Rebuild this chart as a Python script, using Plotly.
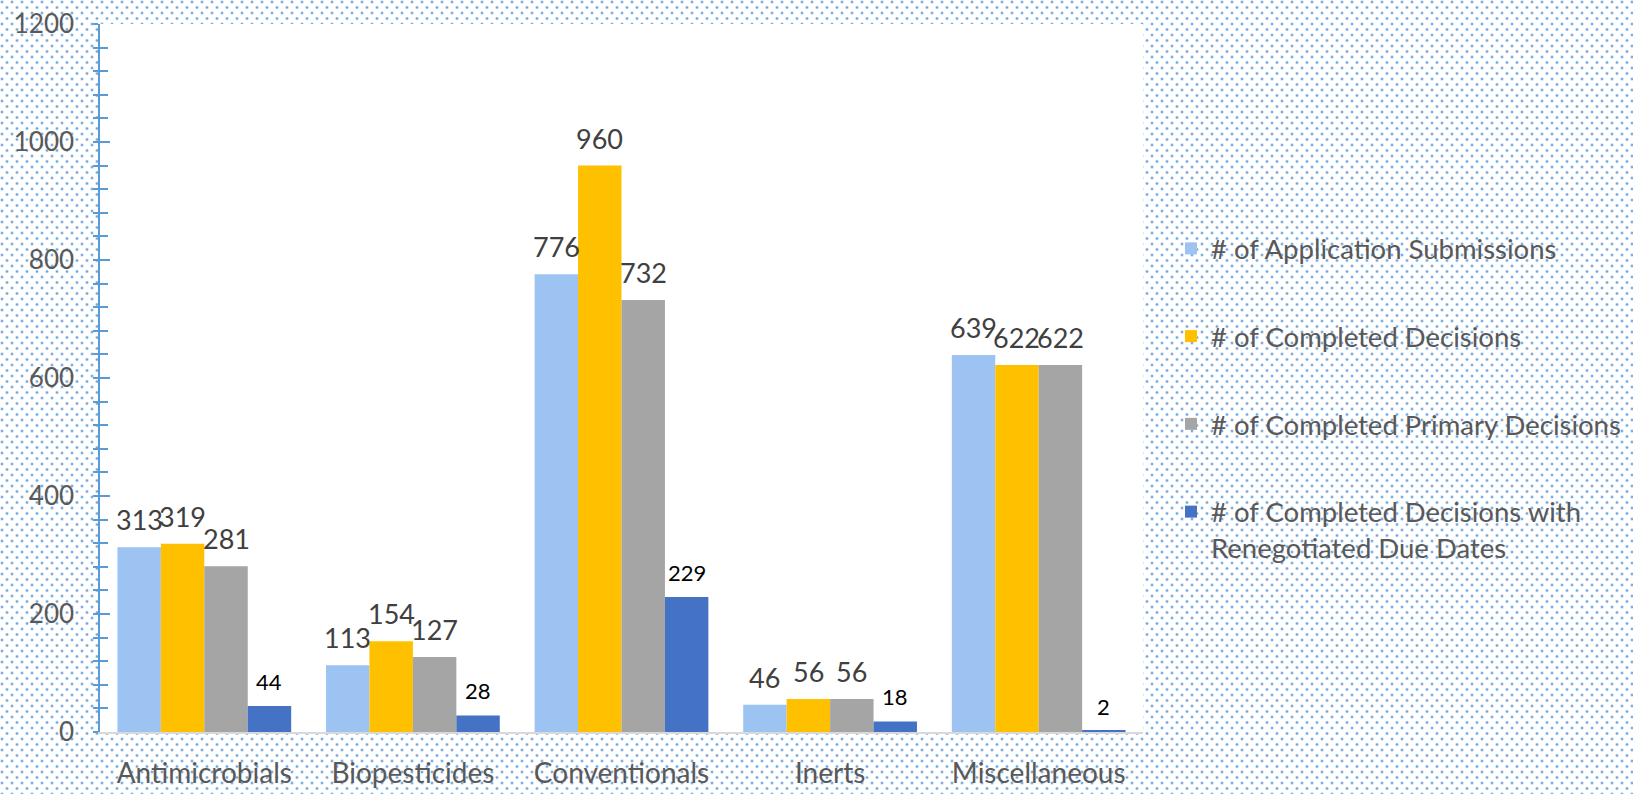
import base64
import plotly.graph_objects as go

categories = ["Antimicrobials", "Biopesticides", "Conventionals", "Inerts", "Miscellaneous"]
series_names = [
    "# of Application Submissions",
    "# of Completed Decisions",
    "# of Completed Primary Decisions",
    "# of Completed Decisions with<br>Renegotiated Due Dates",
]
application_submissions = [313, 113, 776, 46, 639]
completed_decisions = [319, 154, 960, 56, 622]
completed_primary_decisions = [281, 127, 732, 56, 622]
renegotiated_due_dates = [44, 28, 229, 18, 2]
y_tick_values = [0, 200, 400, 600, 800, 1000, 1200]

series_values = [application_submissions, completed_decisions,
                 completed_primary_decisions, renegotiated_due_dates]
colors = ["#9DC3F3", "#FFC000", "#A5A5A5", "#4472C4"]
label_colors = ["#404040", "#404040", "#404040", "#000000"]
label_sizes = [27, 27, 27, 22]

W, H = 1633, 794
ML, MR, MT, MB = 100, 490, 24, 62
PW, PH = W - ML - MR, H - MT - MB
FONT = "Lato"
BARGAP = 0.167

# dotted background pattern as SVG
svg = f'''<svg xmlns="http://www.w3.org/2000/svg" width="{W}" height="{H}" viewBox="0 0 {W} {H}">
<defs><pattern id="p" x="0" y="0" width="10" height="11" patternUnits="userSpaceOnUse">
<rect width="10" height="11" fill="#ffffff"/>
<circle cx="2" cy="2" r="1.7" fill="#B8D5F1"/>
<circle cx="2" cy="2" r="1.0" fill="#6AA3DA"/>
<circle cx="7" cy="7.5" r="1.7" fill="#B8D5F1"/>
<circle cx="7" cy="7.5" r="1.0" fill="#6AA3DA"/>
</pattern></defs>
<rect width="{W}" height="{H}" fill="url(#p)"/></svg>'''
svg_uri = "data:image/svg+xml;base64," + base64.b64encode(svg.encode()).decode()

fig = go.Figure()
xs = list(range(len(categories)))
n = len(series_values)
bw = (1 - BARGAP) / n
for i, (name, vals, col) in enumerate(zip(series_names, series_values, colors)):
    fig.add_trace(go.Bar(
        x=xs, y=vals, name=name, marker=dict(color=col, line=dict(width=0)),
        legendgroup=f"g{i}", hoverinfo="y",
    ))
    off = -(1 - BARGAP) / 2 + bw * (i + 0.5)
    for xi, v in zip(xs, vals):
        fig.add_annotation(
            x=xi + off, y=v, text=str(v), showarrow=False, yanchor="bottom",
            xanchor="center", yshift=9,
            font=dict(family=FONT, size=label_sizes[i], color=label_colors[i]),
        )

# second y axis only for the inner half of the crossing ticks
fig.add_trace(go.Scatter(x=[None], y=[None], yaxis="y2", showlegend=False, hoverinfo="skip"))

axis_blue = "#5B9BD5"
fig.update_layout(
    width=W, height=H,
    margin=dict(l=ML, r=MR, t=MT, b=MB, pad=0, autoexpand=False),
    paper_bgcolor="white", plot_bgcolor="rgba(0,0,0,0)",
    barmode="group", bargap=BARGAP, bargroupgap=0,
    font=dict(family=FONT, color="#595959"),
    xaxis=dict(
        range=[-0.5, len(categories) - 0.5], tickvals=xs, ticktext=categories,
        showgrid=False, zeroline=False, showline=True, linecolor="#D9D9D9", linewidth=1.5,
        ticks="", tickfont=dict(family=FONT, size=28, color="#595959"),
        ticklabelstandoff=16, automargin=False,
    ),
    yaxis=dict(
        range=[0, 1200], tickvals=y_tick_values, showgrid=False, zeroline=False,
        showline=True, linecolor=axis_blue, linewidth=1.5,
        ticks="outside", ticklen=5, tickwidth=1.5, tickcolor=axis_blue,
        minor=dict(dtick=40, ticks="outside", ticklen=5, tickwidth=1.5, tickcolor=axis_blue),
        tickfont=dict(family=FONT, size=26, color="#595959"),
        ticklabelstandoff=14, automargin=False,
    ),
    yaxis2=dict(
        range=[0, 1200], overlaying="y", side="left", showgrid=False, zeroline=False,
        showline=False, showticklabels=False, tickvals=y_tick_values,
        ticks="inside", ticklen=10, tickwidth=1.5, tickcolor=axis_blue,
        minor=dict(dtick=40, ticks="inside", ticklen=8, tickwidth=1.5, tickcolor=axis_blue),
        automargin=False,
    ),
    legend=dict(
        xref="container", yref="container",
        x=1171 / W, xanchor="left", y=1 - 224 / H, yanchor="top",
        bgcolor="rgba(0,0,0,0)", font=dict(family=FONT, size=27.5, color="#595959"),
        traceorder="grouped", tracegroupgap=49, valign="top",
    ),
    images=[dict(
        source=svg_uri, xref="paper", yref="paper",
        x=-ML / PW, y=1 + MT / PH, sizex=W / PW, sizey=H / PH,
        xanchor="left", yanchor="top", sizing="stretch", layer="below",
    )],
    shapes=[dict(
        type="rect", xref="paper", yref="paper", x0=0, x1=1, y0=0, y1=1,
        fillcolor="white", line=dict(width=0), layer="below",
    )],
    showlegend=True,
)

fig.write_html(
    "out.html",
    config={"displayModeBar": False},
    post_script="document.body.style.margin='0px';document.body.style.overflow='hidden';",
)
